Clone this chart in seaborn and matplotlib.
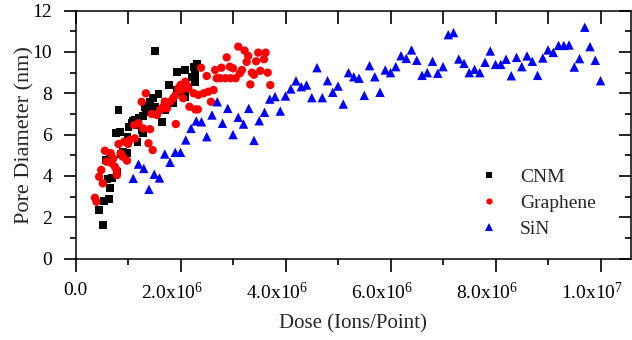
import matplotlib
matplotlib.use('Agg')
import matplotlib.pyplot as plt
import matplotlib.ticker as mticker
import matplotlib.transforms as mtransforms
import matplotlib.lines as mlines
import seaborn as sns
import pandas as pd

# dose en unidades de 1e6 iones/punto, diametro en nm
cnm_dose = [0.45, 0.52, 0.55, 0.63, 0.66, 0.61, 0.70, 0.79, 0.58, 0.66, 0.91, 0.99, 0.87,
            1.18, 0.99, 0.77, 0.85, 0.82, 1.01, 1.07, 1.10, 1.20, 1.26, 1.28, 1.29, 1.34,
            1.32, 1.39, 1.42, 1.48, 1.58, 1.52, 1.65, 1.70, 1.80, 1.86, 1.78, 1.93, 1.94,
            2.09, 2.09, 1.99, 2.09, 2.12, 2.21, 2.25, 2.31, 2.28, 2.28, 1.52, 1.20, 1.14]
cnm_diam = [2.35, 1.64, 2.78, 2.90, 3.42, 3.84, 3.88, 4.20, 4.77, 4.80, 5.17, 5.09, 5.05,
            5.66, 5.90, 6.09, 6.14, 7.19, 6.38, 6.55, 6.66, 6.82, 6.22, 6.06, 6.90, 7.11,
            7.35, 7.38, 7.59, 7.76, 7.95, 7.35, 6.61, 7.19, 7.52, 7.55, 8.40, 8.16, 9.05,
            9.13, 7.81, 8.08, 7.95, 8.24, 8.80, 9.26, 9.40, 8.56, 8.89, 10.05, 6.45, 6.70]

gra_dose = [0.37, 0.40, 0.45, 0.52, 0.49, 0.56, 0.59, 0.69, 0.72, 0.79, 0.75, 0.86, 0.90,
            0.98, 0.82, 0.93, 1.04, 1.13, 1.12, 1.20, 1.29, 1.42, 1.39, 1.47, 1.26, 1.34,
            1.55, 1.61, 1.67, 1.74, 1.80, 1.86, 1.91, 1.96, 2.02, 2.09, 2.05, 2.15, 2.17,
            2.28, 2.33, 2.25, 2.34, 2.44, 2.53, 2.63, 2.58, 2.39, 2.50, 2.66, 2.78, 2.88,
            2.69, 2.75, 2.85, 2.95, 3.05, 2.94, 3.00, 3.10, 3.22, 3.29, 3.26, 3.48, 3.62,
            3.44, 3.59, 3.17, 3.13, 3.36, 3.40, 3.52, 3.66, 3.33, 3.71, 1.00, 0.67, 0.78,
            1.45, 1.70, 1.90, 2.00, 2.12]
gra_diam = [2.94, 2.75, 3.96, 3.64, 4.29, 5.22, 4.69, 4.61, 4.85, 4.04, 4.45, 5.09, 4.93,
            4.74, 5.54, 5.66, 5.74, 5.82, 6.46, 6.55, 6.30, 6.26, 5.58, 5.25, 7.59, 8.00,
            6.95, 7.19, 7.35, 7.27, 7.59, 7.76, 6.51, 8.24, 8.16, 8.56, 7.76, 8.24, 7.35,
            7.22, 7.22, 8.00, 7.92, 8.00, 8.08, 8.16, 7.59, 9.24, 8.84, 9.13, 9.24, 9.74,
            8.73, 8.73, 8.73, 8.73, 8.73, 9.29, 9.21, 10.26, 10.07, 9.81, 9.52, 9.97, 9.97,
            9.55, 9.65, 9.13, 8.97, 9.00, 8.90, 9.09, 9.00, 8.43, 8.40, 5.55, 5.10, 4.30,
            7.00, 7.60, 7.90, 8.40, 8.40]

sin_dose = [1.1, 1.2, 1.3, 1.4, 1.5, 1.6, 1.7, 1.8, 1.9, 2.0,
            2.1, 2.2, 2.3, 2.4, 2.5, 2.6, 2.7, 2.8, 2.9, 3.0,
            3.1, 3.2, 3.3, 3.4, 3.5, 3.6, 3.7, 3.8, 3.9, 4.0,
            4.1, 4.2, 4.3, 4.4, 4.5, 4.6, 4.7, 4.8, 4.9, 5.0,
            5.1, 5.2, 5.3, 5.4, 5.5, 5.6, 5.7, 5.8, 5.9, 6.0,
            6.1, 6.2, 6.3, 6.4, 6.5, 6.6, 6.7, 6.8, 6.9, 7.0,
            7.1, 7.2, 7.3, 7.4, 7.5, 7.6, 7.7, 7.8, 7.9, 8.0,
            8.1, 8.2, 8.3, 8.4, 8.5, 8.6, 8.7, 8.8, 8.9, 9.0,
            9.1, 9.2, 9.3, 9.4, 9.5, 9.6, 9.7, 9.8, 9.9, 10.0]
sin_diam = [3.88, 4.57, 4.36, 3.35, 4.08, 3.90, 5.06, 4.66, 5.14, 5.14,
            5.74, 6.30, 6.66, 6.62, 5.90, 6.95, 7.59, 6.55, 7.27, 6.00,
            6.84, 6.51, 7.27, 5.72, 6.67, 7.08, 7.72, 7.84, 7.14, 7.87,
            8.21, 8.60, 8.32, 8.40, 7.79, 9.24, 7.79, 8.61, 8.05, 8.35,
            7.48, 9.00, 8.80, 8.73, 7.90, 9.34, 8.80, 8.05, 9.13, 9.00,
            9.29, 9.82, 9.69, 10.10, 9.60, 8.87, 9.00, 9.55, 8.97, 9.29,
            10.84, 10.94, 9.66, 9.45, 9.00, 9.16, 9.00, 9.50, 10.05, 9.40,
            9.40, 9.65, 8.85, 9.74, 9.29, 9.81, 9.55, 8.87, 9.71, 10.10,
            9.98, 10.32, 10.32, 10.34, 9.27, 9.68, 11.20, 10.26, 9.60, 8.61]

series_names = ['CNM', 'Graphene', 'SiN']
x_ticks = [0, 2e6, 4e6, 6e6, 8e6, 1e7]
x_tick_labels = ['0.0', r'2.0x10$^{6}$', r'4.0x10$^{6}$', r'6.0x10$^{6}$',
                 r'8.0x10$^{6}$', r'1.0x10$^{7}$']

# armamos el dataframe largo
partes = []
for nombre, dosis, diam in zip(series_names, [cnm_dose, gra_dose, sin_dose],
                               [cnm_diam, gra_diam, sin_diam]):
    partes.append(pd.DataFrame({'dose': [d * 1e6 for d in dosis], 'diam': diam, 'serie': nombre}))
df = pd.concat(partes, ignore_index=True)

sns.set_style('ticks')
plt.rcParams['font.family'] = ['Liberation Serif', 'DejaVu Serif']
plt.rcParams['mathtext.fontset'] = 'custom'
plt.rcParams['mathtext.rm'] = 'Liberation Serif'
plt.rcParams['mathtext.it'] = 'Liberation Serif:italic'

fig = plt.figure(figsize=(6.32, 3.40), dpi=100)
ax = fig.add_axes([75.5 / 632, 81.5 / 340, 555.5 / 632, 247.8 / 340])

sns.scatterplot(data=df, x='dose', y='diam', hue='serie', style='serie', size='serie',
                hue_order=series_names, style_order=series_names, size_order=series_names,
                palette={'CNM': 'black', 'Graphene': '#ff0000', 'SiN': '#0000ff'},
                markers={'CNM': 's', 'Graphene': 'o', 'SiN': '^'},
                sizes={'CNM': 32, 'Graphene': 36, 'SiN': 46},
                linewidth=0, ax=ax)

xlim = (0, 1.058e7)
ylim = (0, 12)
ax.set_xlim(xlim)
ax.set_ylim(ylim)
ax.set_xticks(x_ticks)
ax.set_xticklabels(x_tick_labels)
ax.xaxis.set_minor_locator(mticker.MultipleLocator(1e6))
ax.yaxis.set_major_locator(mticker.MultipleLocator(2))
ax.yaxis.set_minor_locator(mticker.MultipleLocator(1))
ax.tick_params(which='major', direction='out', length=9, width=1.2, labelsize=14,
               colors='black')
ax.tick_params(which='minor', direction='out', length=4.5, width=1.2, colors='black')
ax.tick_params(axis='x', which='major', pad=8)
ax.tick_params(axis='y', which='major', pad=8)
for sp in ax.spines.values():
    sp.set_visible(True)
    sp.set_linewidth(1.1)
    sp.set_color('black')

# las etiquetas con exponente van corridas a la izquierda como en el original
desplazamiento = mtransforms.ScaledTranslation(-8 / 100, 0, fig.dpi_scale_trans)
for lab in ax.get_xticklabels()[1:]:
    lab.set_transform(lab.get_transform() + desplazamiento)

# ticks espejo hacia adentro: arriba cada 1e6 (todos largos), derecha cada 1 y 2
pos_arriba = [v for v in mticker.MultipleLocator(1e6).tick_values(*xlim) if xlim[0] <= v <= xlim[1]]
pos_der_may = [v for v in mticker.MultipleLocator(2).tick_values(*ylim) if ylim[0] <= v <= ylim[1]]
pos_der_men = [v for v in mticker.MultipleLocator(1).tick_values(*ylim)
               if ylim[0] <= v <= ylim[1] and v not in pos_der_may]

ax.plot(pos_arriba, [1] * len(pos_arriba), transform=ax.get_xaxis_transform(),
        ls='none', marker=mlines.TICKDOWN, markersize=9, markeredgewidth=1.2,
        color='black', clip_on=False, zorder=6)
ax.plot([1] * len(pos_der_may), pos_der_may, transform=ax.get_yaxis_transform(),
        ls='none', marker=mlines.TICKLEFT, markersize=9, markeredgewidth=1.2,
        color='black', clip_on=False, zorder=6)
ax.plot([1] * len(pos_der_men), pos_der_men, transform=ax.get_yaxis_transform(),
        ls='none', marker=mlines.TICKLEFT, markersize=4.5, markeredgewidth=1.2,
        color='black', clip_on=False, zorder=6)

ax.set_xlabel('Dose (Ions/Point)', fontsize=15, labelpad=8)
ax.set_ylabel('Pore Diameter (nm)', fontsize=16, labelpad=-1.5)

handles, labels = ax.get_legend_handles_labels()
ax.legend(handles[:3], labels[:3], loc='upper left', bbox_to_anchor=(0.695, 0.395),
          frameon=False, fontsize=14, markerscale=0.75, handletextpad=0.6,
          labelspacing=0.42, borderaxespad=0)

fig.savefig('out.png', dpi=100)
